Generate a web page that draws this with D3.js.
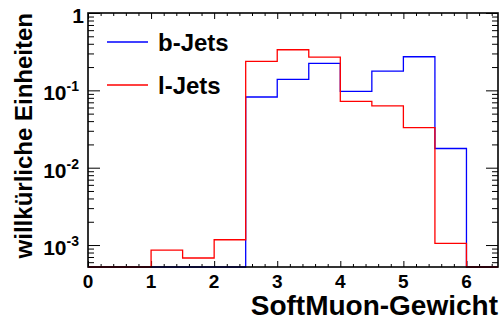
<!DOCTYPE html>
<html>
<head>
<meta charset="utf-8">
<script src="https://cdn.jsdelivr.net/npm/d3@7"></script>
<style>
  body { margin: 0; background: #fff; }
  text { font-family: "Liberation Sans", Arial, sans-serif; font-weight: bold; fill: #000; }
</style>
</head>
<body>
<svg id="chart" width="500" height="321"></svg>
<script>
// bin edges (SoftMuon weight), width 0.5
const binEdges = [0, 0.5, 1, 1.5, 2, 2.5, 3, 3.5, 4, 4.5, 5, 5.5, 6, 6.5];
// normalised contents per bin (0 = empty bin)
const bJets = [0, 0, 0, 0, 0, 0.082, 0.139, 0.223, 0.097, 0.177, 0.272, 0.0177, 0];
const lJets = [0, 0, 0.00086, 0.00068, 0.00117, 0.237, 0.335, 0.269, 0.072, 0.063, 0.033, 0.00105, 0];
const seriesNames = ["b-Jets", "l-Jets"];
const seriesColors = ["#0000ff", "#ff0000"];
const xTicks = [0, 1, 2, 3, 4, 5, 6];
const yTicks = [1, 0.1, 0.01, 0.001];
const yTickExp = ["", "-1", "-2", "-3"];

const svg = d3.select("#chart");
const margin = { top: 13, right: 2, bottom: 54, left: 88 },
    width = +svg.attr("width") - margin.left - margin.right,
    height = +svg.attr("height") - margin.top - margin.bottom,
    g = svg.append("g").attr("transform", "translate(" + margin.left + "," + margin.top + ")");

const x = d3.scaleLinear().domain([0, 6.5]).range([0, width]);
const yMin = 0.00052;
const y = d3.scaleLog().domain([yMin, 1]).range([height, 0]);

// minor ticks
const xMinor = d3.range(0, 6.5001, 0.2).filter(v => Math.abs(v - Math.round(v)) > 1e-6);
const yMinor = [];
[0.0001, 0.001, 0.01, 0.1].forEach(d => {
    for (let k = 2; k <= 9; k++) {
        const v = d * k;
        if (v >= yMin && v <= 1) yMinor.push(v);
    }
});

function tickGroup(axis) {
    const a = g.append("g").call(axis);
    a.select(".domain").remove();
    a.selectAll("line").attr("stroke", "#000").attr("stroke-width", 1);
    return a;
}

// x ticks bottom + top
tickGroup(d3.axisBottom(x).tickValues(xTicks).tickSize(-6).tickFormat(""))
    .attr("transform", "translate(0," + height + ")");
tickGroup(d3.axisBottom(x).tickValues(xMinor).tickSize(-3).tickFormat(""))
    .attr("transform", "translate(0," + height + ")");
tickGroup(d3.axisTop(x).tickValues(xTicks).tickSize(-6).tickFormat(""));
tickGroup(d3.axisTop(x).tickValues(xMinor).tickSize(-3).tickFormat(""));

// y ticks left + right
tickGroup(d3.axisLeft(y).tickValues(yTicks).tickSize(-12).tickFormat(""));
tickGroup(d3.axisLeft(y).tickValues(yMinor).tickSize(-6).tickFormat(""));
tickGroup(d3.axisRight(y).tickValues(yTicks).tickSize(-12).tickFormat(""))
    .attr("transform", "translate(" + width + ",0)");
tickGroup(d3.axisRight(y).tickValues(yMinor).tickSize(-6).tickFormat(""))
    .attr("transform", "translate(" + width + ",0)");

// x tick labels
g.append("g").selectAll("text")
    .data(xTicks)
    .enter().append("text")
    .attr("x", d => x(d))
    .attr("y", height + 21)
    .attr("text-anchor", "middle")
    .attr("font-size", 19)
    .text(d => d);

// y tick labels with superscripts
const yLab = g.append("g").selectAll("text")
    .data(yTicks)
    .enter().append("text")
    .attr("x", (d, i) => yTickExp[i] === "" ? -4 : -9)
    .attr("y", d => y(d) + 10)
    .attr("text-anchor", "end")
    .attr("font-size", 21);
yLab.each(function (d, i) {
    const t = d3.select(this);
    if (yTickExp[i] === "") {
        t.text("1");
    } else {
        t.append("tspan").text("10");
        t.append("tspan").attr("font-size", 14).attr("dy", -9).text(yTickExp[i]);
    }
});

// histograms as step lines
const line = d3.line()
    .x(p => x(p[0]))
    .y(p => y(Math.max(p[1], yMin)))
    .curve(d3.curveStepAfter);

[bJets, lJets].forEach((vals, s) => {
    const pts = vals.map((v, i) => [binEdges[i], v]);
    pts.push([binEdges[binEdges.length - 1], vals[vals.length - 1]]);
    g.append("path")
        .datum(pts)
        .attr("fill", "none")
        .attr("stroke", seriesColors[s])
        .attr("stroke-width", 1.3)
        .attr("d", line);
});

// frame
g.append("rect")
    .attr("width", width)
    .attr("height", height)
    .attr("fill", "none")
    .attr("stroke", "#000")
    .attr("stroke-width", 1.6);

// legend
const legend = g.append("g").selectAll("g")
    .data(seriesNames)
    .enter().append("g")
    .attr("transform", (d, i) => "translate(0," + (29 + i * 43) + ")");
legend.append("line")
    .attr("x1", 19).attr("x2", 60)
    .attr("stroke", (d, i) => seriesColors[i])
    .attr("stroke-width", 1.3);
legend.append("text")
    .attr("x", 70)
    .attr("y", 9)
    .attr("font-size", 24)
    .text(d => d);

// axis titles
svg.append("text")
    .attr("x", margin.left + width)
    .attr("y", 315)
    .attr("text-anchor", "end")
    .attr("font-size", 28)
    .text("SoftMuon-Gewicht");

svg.append("text")
    .attr("transform", "translate(32," + margin.top + ") rotate(-90)")
    .attr("text-anchor", "end")
    .attr("font-size", 24)
    .text("willkürliche Einheiten");
</script>
</body>
</html>
